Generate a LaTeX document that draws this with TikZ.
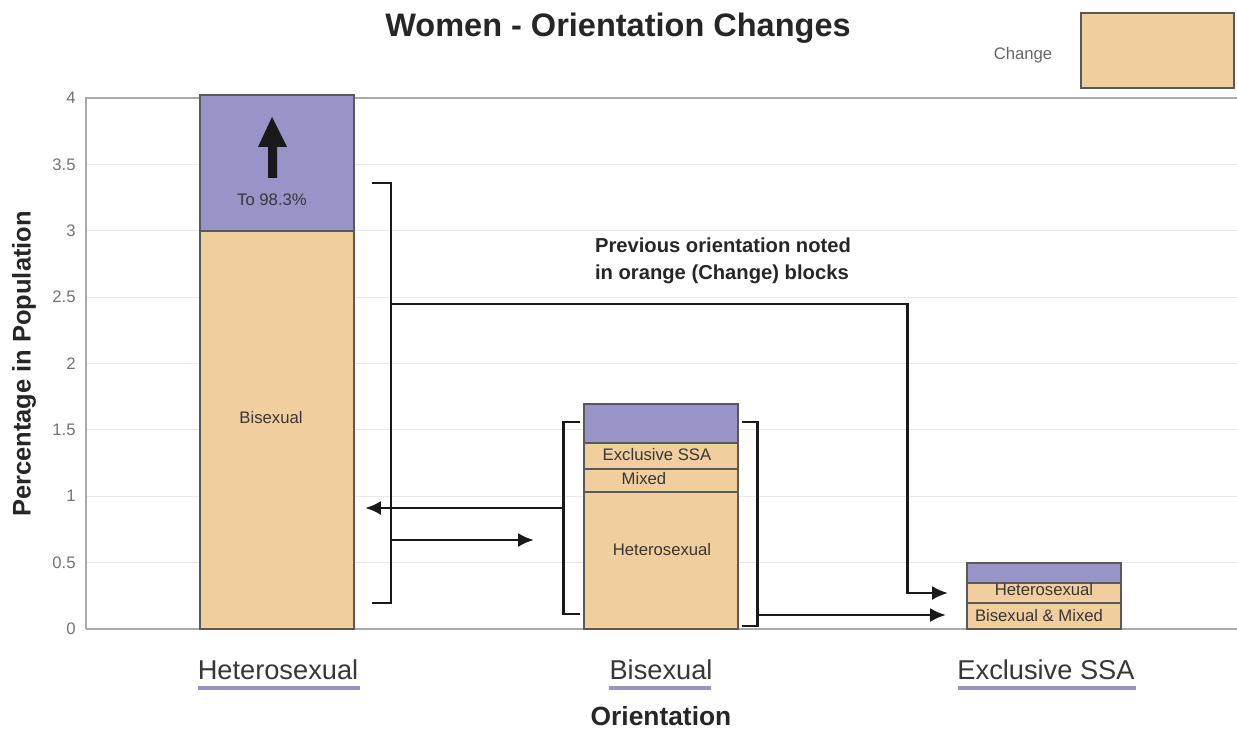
\documentclass[tikz,border=0pt]{standalone}
\usepackage{fontspec}
\setmainfont{Liberation Sans}
\usetikzlibrary{arrows.meta}

\definecolor{changeorange}{RGB}{240,206,158}
\definecolor{barpurple}{RGB}{153,148,200}
\definecolor{gridgray}{RGB}{232,232,232}
\definecolor{axisgray}{RGB}{170,170,170}
\definecolor{textgray}{RGB}{55,55,55}

\begin{document}
\begin{tikzpicture}[x=0.02cm, y=-0.02cm, >={Latex[length=9pt,width=8pt]},
  change/.style={fill=changeorange, draw=black!65, line width=0.6pt},
  prior/.style={fill=barpurple, draw=black!65, line width=0.6pt},
  link/.style={line width=1.7pt, black!90},
  barlabel/.style={font=\fontsize{9.5}{11}\selectfont, text=textgray, inner sep=0pt},
  catlabel/.style={font=\fontsize{15.5}{18}\selectfont, text=textgray, inner sep=0pt}]
  \useasboundingbox (0,0) rectangle (1237,729);

  % grid and frame
  \foreach \v in {0.5,1,1.5,2,2.5,3,3.5}
    \draw [gridgray, line width=0.6pt] (86,{629-132.75*\v}) -- (1237,{629-132.75*\v});
  \draw [axisgray, line width=0.6pt] (1237,98) -- (86,98) -- (86,629);
  \draw [axisgray, line width=1pt] (86,629) -- (1237,629);
  \foreach \v [count=\i] in {0,0.5,1,1.5,2,2.5,3,3.5,4}
    \node (tick\i) at (76,{629-132.75*\v}) [anchor=east, inner sep=0pt, text=black!55,
      font=\fontsize{9.5}{11}\selectfont] {\v};

  % titles
  \node (title) at (618,28) [font=\fontsize{18.5}{22}\bfseries, text=black!85] {Women - Orientation Changes};
  \node (ylabel) at (24,364) [rotate=90, font=\fontsize{14.5}{17}\bfseries, text=black!85] {Percentage in Population};
  \node (xlabel) at (661,716) [inner sep=0pt, font=\fontsize{15}{18}\bfseries, text=black!85] {Orientation};

  % legend
  \node (legtext) at (1023,55) [barlabel, text=black!60] {Change};
  \draw [change] (1081,13) rectangle (1234,88);

  % heterosexual bar
  \draw [change] (200,629) rectangle (354,231);
  \draw [prior] (200,231) rectangle (354,95);
  \fill [black!90] (268,178) -- (268,147) -- (258,147) -- (272,117) -- (287,147) -- (277,147) -- (277,178) -- cycle;
  \node (topct) at (272,200) [barlabel] {To 98.3\%};
  \node (hbis) at (271,418) [barlabel] {Bisexual};

  % bisexual bar
  \draw [change] (584,629) rectangle (738,443);
  \draw [black!65, line width=0.6pt] (584,469) -- (738,469) (584,492) -- (738,492);
  \draw [prior] (584,443) rectangle (738,404);
  \node (bexc) at (657,455) [barlabel] {Exclusive SSA};
  \node (bmix) at (644,479) [barlabel] {Mixed};
  \node (bhet) at (662,550) [barlabel] {Heterosexual};

  % exclusive SSA bar
  \draw [change] (967,629) rectangle (1121,583);
  \draw [black!65, line width=0.6pt] (967,603) -- (1121,603);
  \draw [prior] (967,583) rectangle (1121,563);
  \node (ehet) at (1044,590) [barlabel] {Heterosexual};
  \node (ebim) at (1039,616) [barlabel] {Bisexual \& Mixed};

  % note
  \node (note) at (723,261) [align=left, font=\fontsize{11.5}{15.5}\bfseries, text=black!85]
    {Previous orientation noted\\in orange (Change) blocks};

  % brackets and moves
  \coordinate (hb1) at (372,183);
  \coordinate (hb2) at (391,183);
  \coordinate (hb3) at (391,603);
  \coordinate (hb4) at (372,603);
  \coordinate (hbmid) at (391,304);
  \coordinate (turn) at (907,304);
  \coordinate (exhet) at (948,593);
  \coordinate (hbout) at (391,540);
  \coordinate (bihet) at (534,540);
  \coordinate (bl1) at (580,422);
  \coordinate (bl2) at (563,422);
  \coordinate (bl3) at (563,614);
  \coordinate (bl4) at (580,614);
  \coordinate (blmid) at (563,508);
  \coordinate (hetin) at (365,508);
  \coordinate (br1) at (742,422);
  \coordinate (br2) at (757,422);
  \coordinate (br3) at (757,626);
  \coordinate (br4) at (742,626);
  \coordinate (brout) at (757,615);
  \coordinate (exbim) at (946,615);

  \draw [link] (hb1) -- (hb2) -- (hb3) -- (hb4);
  \draw [link, ->] (hbmid) -- (turn) |- (exhet);
  \draw [link, ->] (hbout) -- (bihet);
  \draw [link] (bl1) -- (bl2) -- (bl3) -- (bl4);
  \draw [link, ->] (blmid) -- (hetin);
  \draw [link] (br1) -- (br2) -- (br3) -- (br4);
  \draw [link, ->] (brout) -- (exbim);

  % category labels
  \node (cathet) at (278,670) [catlabel] {Heterosexual};
  \node (catbi) at (661,670) [catlabel] {Bisexual};
  \node (catex) at (1046,670) [catlabel] {Exclusive SSA};
  \draw [barpurple, line width=1.8pt] (198,688) -- (360,688);
  \draw [barpurple, line width=1.8pt] (609,688) -- (711,688);
  \draw [barpurple, line width=1.8pt] (958,688) -- (1136,688);
\end{tikzpicture}
\end{document}
